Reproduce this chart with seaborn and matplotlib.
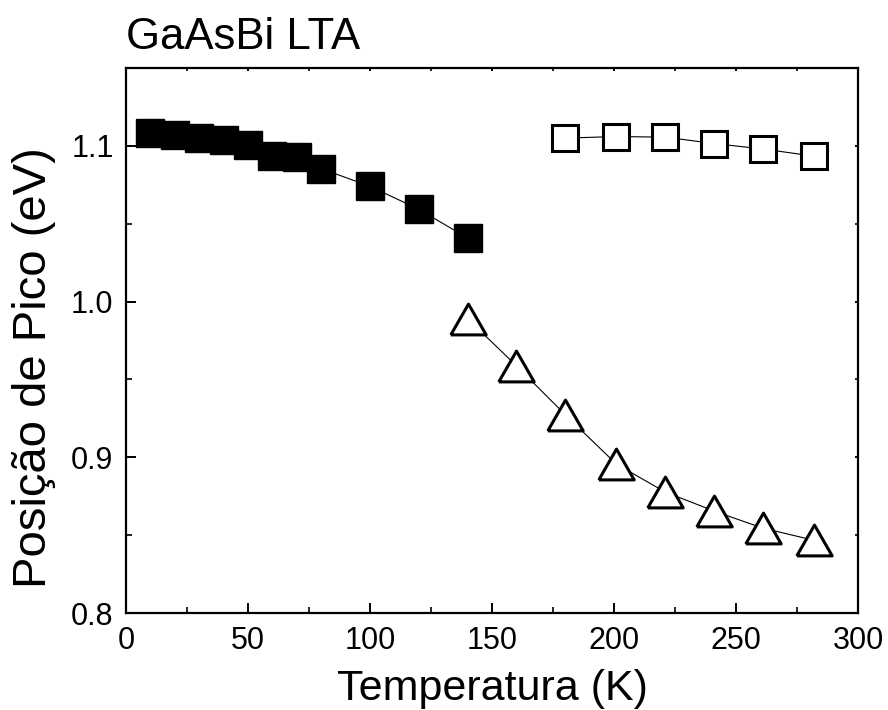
import matplotlib
matplotlib.use("Agg")
import matplotlib.pyplot as plt
from matplotlib.ticker import MultipleLocator
import seaborn as sns

# Peak position vs temperature for the GaAsBi LTA sample
t_low = [10, 20, 30, 40, 50, 60, 70, 80, 100, 120, 140]
e_low = [1.108, 1.1067, 1.105, 1.104, 1.1008, 1.0936, 1.0929, 1.0854, 1.074, 1.0593, 1.0408]

t_tri = [140, 160, 180, 201, 221, 241, 261, 282]
e_tri = [0.989, 0.9588, 0.9274, 0.8956, 0.8777, 0.8655, 0.8545, 0.8467]

t_high = [180, 201, 221, 241, 261, 282]
e_high = [1.105, 1.106, 1.1056, 1.1015, 1.098, 1.0934]

x_ticks = [0, 50, 100, 150, 200, 250, 300]
y_ticks = [0.8, 0.9, 1.0, 1.1]

sns.set_style("ticks")
plt.rcParams["font.family"] = ["Liberation Sans", "DejaVu Sans"]
plt.rcParams.update({"text.color": "black", "axes.labelcolor": "black",
                     "xtick.color": "black", "ytick.color": "black"})

fig = plt.figure(figsize=(8.88, 7.10), dpi=100)
ax = fig.add_axes([0.1419, 0.1366, 0.8243, 0.7676])

line_kw = dict(color="black", linewidth=0.8, ax=ax, legend=False)

sns.lineplot(x=t_low, y=e_low, marker="s", markersize=20,
             markerfacecolor="black", markeredgecolor="black",
             markeredgewidth=1.0, **line_kw)

tri = [(-1.15, -1.0), (1.15, -1.0), (0.0, 1.0), (-1.15, -1.0)]
sns.lineplot(x=t_tri, y=e_tri, marker=tri, markersize=25.5,
             markerfacecolor="white", markeredgecolor="black",
             markeredgewidth=2.2, **line_kw)

sns.lineplot(x=t_high, y=e_high, marker="s", markersize=19,
             markerfacecolor="white", markeredgecolor="black",
             markeredgewidth=2.2, **line_kw)

ax.set_xlim(0, 300)
ax.set_ylim(0.8, 1.15)
ax.set_xticks(x_ticks)
ax.set_yticks(y_ticks)
ax.set_yticklabels([f"{v:.1f}" for v in y_ticks])
ax.xaxis.set_minor_locator(MultipleLocator(25))
ax.yaxis.set_minor_locator(MultipleLocator(0.05))

for side in ["left", "right", "top", "bottom"]:
    ax.spines[side].set_visible(True)
    ax.spines[side].set_linewidth(1.6)
    ax.spines[side].set_color("black")

ax.tick_params(which="major", direction="in", length=7, width=1.4,
               labelsize=22, pad=9, colors="black")
ax.tick_params(which="minor", direction="in", length=4, width=1.2)
ax.tick_params(which="both", top=True, right=True)

# the opposite (top/right) axes carry only tiny tick stubs
fig.canvas.draw()
for axis in (ax.xaxis, ax.yaxis):
    for tick in axis.get_major_ticks() + axis.get_minor_ticks():
        tick.tick2line.set_markersize(2)

ax.set_xlabel("Temperatura (K)", fontsize=31, labelpad=10)
ax.set_ylabel("Posição de Pico (eV)", fontsize=34)
ax.yaxis.set_label_coords(-0.095, 0.451)
ax.set_title("GaAsBi LTA", fontsize=31.5, loc="left", pad=14)
ax.grid(False)

fig.savefig("out.png", dpi=100, facecolor="white")
